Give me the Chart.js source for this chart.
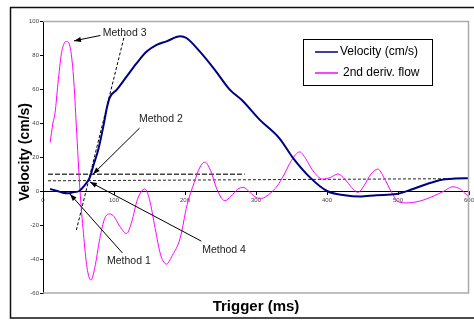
<!DOCTYPE html>
<html>
<head>
<meta charset="utf-8">
<style>
  html, body { margin: 0; padding: 0; background: #fff; }
  #wrap { width: 474px; height: 320px; }
</style>
<script src="https://cdn.jsdelivr.net/npm/chart.js@4.4.1/dist/chart.umd.min.js"></script>
</head>
<body>
<div id="wrap"><canvas id="chart" width="474" height="320"></canvas></div>
<script>
// series (time in ms, values in cm/s)
const velTime = [10, 20, 28, 35, 42, 51, 58, 66, 71, 78, 85, 90, 94, 104, 118, 132, 146, 160, 174, 193, 202, 221, 242, 263, 280, 305, 333, 352, 376, 400, 425, 446, 470, 498, 520, 540, 560, 580, 600];
const velValue = [1.2, 0, -1, -1.3, -0.8, 0, 3, 8, 15, 24.6, 38, 49, 55, 59.6, 67.4, 75.2, 82, 86, 88, 91, 90, 82, 71.3, 59.6, 53.5, 42, 31, 19.5, 8, 0, -2.5, -3.3, -2.5, -1.8, 1, 4, 6.5, 7.3, 7.5];

const flowTime = [10, 14, 17, 21, 26, 30, 33, 38, 43, 47, 52, 57, 62, 67.5, 73, 80, 87, 94, 100, 107, 117.7, 125, 133, 143.5, 150, 158, 166, 174, 182, 193, 203, 213, 221, 228, 236, 245, 256, 265, 274, 282, 292, 300, 308, 318, 330, 340, 350, 361.6, 370, 380, 394, 405, 415.5, 425, 435, 443.7, 452, 462, 471.8, 480, 490, 500, 511.7, 530, 550, 565, 577, 588, 600];
const flowValue = [28.5, 40, 46, 63, 81, 87, 88, 85, 67, 38, 1, -25, -45, -52.4, -45, -28, -16, -13.5, -15, -20, -25, -18, -5, 1.2, -5, -22, -38, -43, -38, -28, -8, 5, 14, 17, 12, 1, -5.7, -3, 1, 2.1, -1, -3.8, -4.3, -2, 3, 10, 18, 23, 19, 12, 7, 8, 10, 7, 2, -0.8, 3, 10, 12.9, 8, 0, -6.2, -7, -6, -3, 0, 2.5, 1, -3.7];

// threshold / tangent construction lines
const longDashX = [7, 284];
const longDashY = [9.8, 9.8];
const shortDashX = [7, 600];
const shortDashY = [6, 7.3];
const tangentX = [47, 115];
const tangentY = [-23, 92];

const xTicks = [0, 100, 200, 300, 400, 500, 600];
const yTicks = [-60, -40, -20, 0, 20, 40, 60, 80, 100];

// callouts: label centre, arrow tail, arrow head (data units)
const callouts = [
  { text: 'Method 3', lx: 115, ly: 93, fx: 81, fy: 91.5, hx: 43.6, hy: 88.3 },
  { text: 'Method 2', lx: 166, ly: 42, fx: 136, fy: 37, hx: 70.4, hy: 9.9 },
  { text: 'Method 4', lx: 255, ly: -35, fx: 223, fy: -29.5, hx: 66, hy: 5.3 },
  { text: 'Method 1', lx: 121, ly: -41.5, fx: 112, fy: -36.5, hx: 38, hy: -1.8 }
];

const pts = (xs, ys) => xs.map((x, i) => ({ x: x, y: ys[i] }));

const FONT = '"Liberation Sans", Arial, sans-serif';

const decor = {
  id: 'decor',
  afterDraw(chart) {
    const c = chart.ctx;
    const a = chart.chartArea;
    const xs = chart.scales.x, ys = chart.scales.y;
    c.save();

    // outer frame
    c.strokeStyle = '#111';
    c.lineWidth = 1.5;
    c.beginPath();
    c.moveTo(480, 7.5); c.lineTo(10.5, 7.5); c.lineTo(10.5, 318); c.lineTo(480, 318);
    c.stroke();

    // plot area border (top, right, bottom)
    c.strokeStyle = '#aaa';
    c.lineWidth = 1.5;
    c.beginPath();
    c.moveTo(a.left, a.top + 0.5); c.lineTo(a.right - 0.5, a.top + 0.5);
    c.lineTo(a.right - 0.5, a.bottom); c.lineTo(a.left, a.bottom);
    c.stroke();

    // callouts
    c.lineWidth = 1;
    callouts.forEach(m => {
      const x1 = xs.getPixelForValue(m.fx), y1 = ys.getPixelForValue(m.fy);
      const x2 = xs.getPixelForValue(m.hx), y2 = ys.getPixelForValue(m.hy);
      const ang = Math.atan2(y2 - y1, x2 - x1);
      c.strokeStyle = '#000';
      c.fillStyle = '#000';
      c.beginPath(); c.moveTo(x1, y1); c.lineTo(x2, y2); c.stroke();
      c.beginPath();
      c.moveTo(x2, y2);
      c.lineTo(x2 - 7 * Math.cos(ang) + 2.5 * Math.sin(ang), y2 - 7 * Math.sin(ang) - 2.5 * Math.cos(ang));
      c.lineTo(x2 - 7 * Math.cos(ang) - 2.5 * Math.sin(ang), y2 - 7 * Math.sin(ang) + 2.5 * Math.cos(ang));
      c.closePath(); c.fill();
      c.font = '10.5px ' + FONT;
      c.fillStyle = '#222';
      c.textAlign = 'center';
      c.textBaseline = 'middle';
      c.fillText(m.text, xs.getPixelForValue(m.lx), ys.getPixelForValue(m.ly));
    });

    // legend box
    const bx = 303.5, by = 39.5, bw = 129, bh = 46;
    c.fillStyle = '#fff';
    c.fillRect(bx, by, bw, bh);
    c.strokeStyle = '#000';
    c.lineWidth = 1;
    c.strokeRect(bx, by, bw, bh);
    chart.data.datasets.slice(0, 2).forEach((d, i) => {
      const yy = 52 + i * 21;
      c.strokeStyle = d.borderColor;
      c.lineWidth = 1.5;
      c.beginPath(); c.moveTo(315, yy); c.lineTo(338, yy); c.stroke();
      c.fillStyle = '#000';
      c.font = '12px ' + FONT;
      c.textAlign = 'left';
      c.textBaseline = 'middle';
      c.fillText(d.label, i === 0 ? 340 : 343, yy);
    });

    // axis titles
    c.fillStyle = '#000';
    c.font = 'bold 15px ' + FONT;
    c.textAlign = 'center';
    c.textBaseline = 'middle';
    c.fillText('Trigger (ms)', (a.left + a.right) / 2, 307);
    c.translate(25, 152);
    c.rotate(-Math.PI / 2);
    c.font = 'bold 14px ' + FONT;
    c.fillText('Velocity (cm/s)', 0, 0);
    c.restore();
  }
};

new Chart(document.getElementById('chart').getContext('2d'), {
  type: 'line',
  data: {
    datasets: [
      {
        label: 'Velocity (cm/s)',
        data: pts(velTime, velValue),
        borderColor: '#000080',
        borderWidth: 2,
        pointRadius: 0,
        cubicInterpolationMode: 'monotone',
        order: 1
      },
      {
        label: '2nd deriv. flow',
        data: pts(flowTime, flowValue),
        borderColor: '#ff00ff',
        borderWidth: 1,
        pointRadius: 0,
        cubicInterpolationMode: 'monotone',
        order: 2
      },
      {
        label: 'long dash',
        data: pts(longDashX, longDashY),
        borderColor: '#444',
        borderWidth: 1.5,
        borderDash: [5, 2],
        pointRadius: 0,
        order: 3
      },
      {
        label: 'short dash',
        data: pts(shortDashX, shortDashY),
        borderColor: '#222',
        borderWidth: 1,
        borderDash: [3, 2],
        pointRadius: 0,
        order: 3
      },
      {
        label: 'tangent',
        data: pts(tangentX, tangentY),
        borderColor: '#000',
        borderWidth: 1,
        borderDash: [3, 2],
        pointRadius: 0,
        order: 3
      }
    ]
  },
  options: {
    responsive: false,
    devicePixelRatio: 1,
    animation: false,
    layout: { padding: { left: 10, top: 21, right: 5, bottom: 27 } },
    plugins: {
      legend: { display: false },
      tooltip: { enabled: false }
    },
    scales: {
      x: {
        type: 'linear',
        min: 0,
        max: 600,
        position: { y: 0 },
        afterFit: s => { s.height = 0; s.paddingLeft = 0; s.paddingRight = 0; },
        afterBuildTicks: s => { s.ticks = xTicks.map(v => ({ value: v })); },
        grid: { drawOnChartArea: false, drawTicks: true, tickLength: 3, color: '#000' },
        border: { color: '#000', width: 1 },
        ticks: { font: { size: 6, family: FONT }, color: '#444', padding: 3, maxRotation: 0 }
      },
      y: {
        min: -60,
        max: 100,
        afterFit: s => { s.width = 33; s.paddingTop = 0; s.paddingBottom = 0; },
        afterBuildTicks: s => { s.ticks = yTicks.map(v => ({ value: v })); },
        grid: { drawOnChartArea: false, drawTicks: true, tickLength: 3, color: '#000' },
        border: { color: '#000', width: 1 },
        ticks: { font: { size: 6, family: FONT }, color: '#444', padding: 1 }
      }
    }
  },
  plugins: [decor]
});
</script>
</body>
</html>
